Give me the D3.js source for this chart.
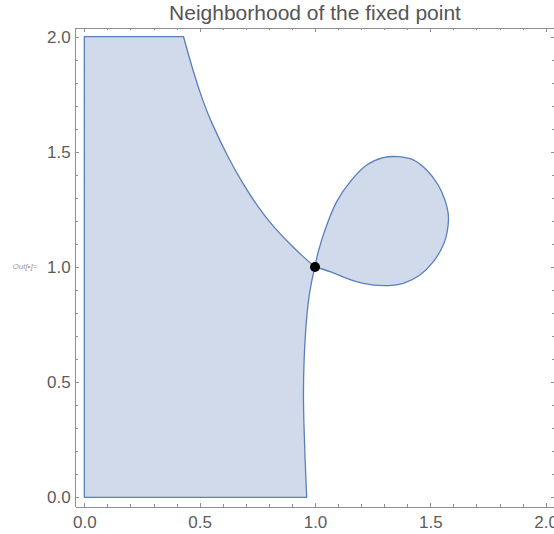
<!DOCTYPE html>
<meta charset="utf-8">
<head>
<style>
  body { margin: 0; background: #fff; }
  .axis path, .axis line { fill: none; stroke: #8f8f8f; shape-rendering: crispEdges; }
  .axis text { font: 17px "Liberation Sans", Arial, sans-serif; fill: #5c5c5c; }
</style>
</head>
<body>
<script src="https://d3js.org/d3.v7.min.js"></script>
<script>

// boundary (data units)
var leftEdge = [[0.964, 0], [0, 0], [0, 2], [0.43, 2]];
var upperCurve = [[0.43, 2], [0.470, 1.855], [0.516, 1.714], [0.549, 1.631], [0.628, 1.465],
                  [0.687, 1.363], [0.751, 1.262], [0.819, 1.175], [0.888, 1.103], [0.948, 1.045], [1, 1]];
var lowerCurve = [[1, 1], [0.986, 0.944], [0.971, 0.857], [0.960, 0.741], [0.952, 0.596],
                  [0.949, 0.452], [0.952, 0.307], [0.957, 0.162], [0.964, 0]];
var loopCurve = [[1, 1], [1.014, 1.066], [1.051, 1.182], [1.094, 1.284], [1.152, 1.370], [1.224, 1.443],
                 [1.296, 1.475], [1.361, 1.479], [1.426, 1.465], [1.484, 1.421], [1.534, 1.356],
                 [1.563, 1.291], [1.578, 1.226], [1.573, 1.153], [1.556, 1.096], [1.513, 1.023],
                 [1.455, 0.965], [1.383, 0.929], [1.296, 0.919], [1.209, 0.929], [1.137, 0.951],
                 [1.065, 0.980], [1, 1]];
var fixedPoint = [1, 1];
var majorTicks = [0, 0.5, 1, 1.5, 2];
var minorTicks = [0.1, 0.2, 0.3, 0.4, 0.6, 0.7, 0.8, 0.9, 1.1, 1.2, 1.3, 1.4, 1.6, 1.7, 1.8, 1.9];

var width = 554, height = 534;
var x = d3.scaleLinear().domain([-0.04, 2.04]).range([75.1, 554.9]);
var y = d3.scaleLinear().domain([-0.04, 2.04]).range([506.5, 27.5]);

var svg = d3.select("body").append("svg")
    .attr("width", width)
    .attr("height", height);

var smooth = d3.line()
    .x(function(d) { return x(d[0]); })
    .y(function(d) { return y(d[1]); })
    .curve(d3.curveBasis);
var curve = d3.line()
    .x(function(d) { return x(d[0]); })
    .y(function(d) { return y(d[1]); })
    .curve(d3.curveCatmullRom.alpha(0.5));
var straight = d3.line()
    .x(function(d) { return x(d[0]); })
    .y(function(d) { return y(d[1]); });

var mainPath = straight(leftEdge)
    + smooth(upperCurve).replace(/^M/, "L")
    + smooth(lowerCurve).replace(/^M/, "L") + "Z";
var loopPath = curve(loopCurve) + "Z";

svg.selectAll("path.region")
    .data([mainPath, loopPath])
  .enter().append("path")
    .attr("class", "region")
    .attr("d", function(d) { return d; })
    .style("fill", "#d0daea")
    .style("stroke", "#5a7fbc")
    .style("stroke-width", 1.3)
    .style("stroke-linejoin", "round");

svg.append("circle")
    .attr("cx", x(fixedPoint[0]))
    .attr("cy", y(fixedPoint[1]))
    .attr("r", 5)
    .style("fill", "#000");

// frame: ticks point inward
function frame(axisFn, scale, pos, vertical, labels, pad) {
  var major = axisFn(scale).tickValues(majorTicks).tickSizeInner(-4).tickSizeOuter(0)
      .tickPadding(pad).tickFormat(labels ? d3.format(".1f") : "");
  var minor = axisFn(scale).tickValues(minorTicks).tickSizeInner(-2.5).tickSizeOuter(0).tickFormat("");
  var tr = vertical ? "translate(" + pos + ",0)" : "translate(0," + pos + ")";
  svg.append("g").attr("class", "axis").attr("transform", tr).call(minor);
  svg.append("g").attr("class", "axis").attr("transform", tr).call(major);
}
frame(d3.axisBottom, x, 506.5, false, true, 9);
frame(d3.axisTop, x, 27.5, false, false, 0);
frame(d3.axisLeft, y, 75.1, true, true, 4.5);
frame(d3.axisRight, y, 554.9, true, false, 0);

svg.append("text")
    .attr("x", 315)
    .attr("y", 20)
    .attr("text-anchor", "middle")
    .style("font", "21px 'Liberation Sans', Arial, sans-serif")
    .style("fill", "#555")
    .text("Neighborhood of the fixed point");

svg.append("text")
    .attr("x", 12.5)
    .attr("y", 269)
    .style("font", "italic 8px 'Liberation Sans', Arial, sans-serif")
    .style("fill", "#9a9a9a")
    .text("Out[•]=");

</script>
</body>
